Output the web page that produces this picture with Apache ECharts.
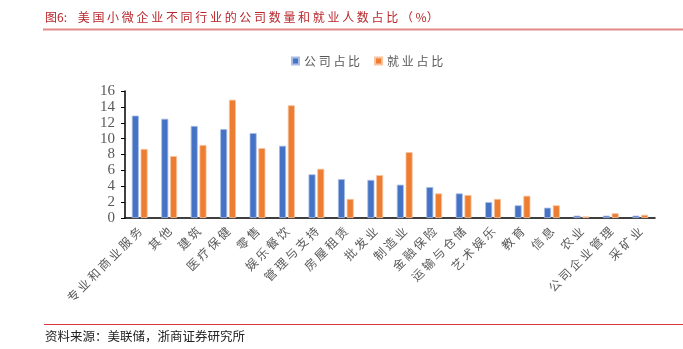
<!DOCTYPE html>
<html>
<head>
<meta charset="utf-8">
<script src="https://cdn.jsdelivr.net/npm/echarts@6/dist/echarts.min.js"></script>
<style>
  html, body { margin: 0; padding: 0; background: #fff; }
  #chart { width: 683px; height: 349px; }
</style>
</head>
<body>
<div id="chart"></div>
<script>
// Industry categories
var industries = ['专业和商业服务', '其他', '建筑', '医疗保健', '零售', '娱乐餐饮', '管理与支持', '房屋租赁', '批发业',
  '制造业', '金融保险', '运输与仓储', '艺术娱乐', '教育', '信息', '农业', '公司企业管理', '采矿业'];
// Share of firms (%)
var firmShare = [12.9, 12.5, 11.6, 11.2, 10.7, 9.1, 5.5, 4.9, 4.8, 4.2, 3.9, 3.1, 2.0, 1.6, 1.3, 0.3, 0.3, 0.3];
// Share of employment (%)
var jobShare = [8.7, 7.8, 9.2, 14.9, 8.8, 14.2, 6.2, 2.4, 5.4, 8.3, 3.1, 2.9, 2.4, 2.8, 1.6, 0.2, 0.6, 0.4];
// Y axis ticks
var yTicks = [0, 2, 4, 6, 8, 10, 12, 14, 16];

var cjk = '"Noto Sans CJK SC", sans-serif';
var serif = '"Liberation Serif", "DejaVu Serif", serif';

// Loosen CJK text by putting a space between characters
function spaced(s) { return s.split('').join(' '); }

var chart = echarts.init(document.getElementById('chart'));
chart.setOption({
  animation: false,
  title: {
    text: '图6:    ' + spaced('美国小微企业不同行业的公司数量和就业人数占比') + ' （ %）',
    left: 40, top: 6,
    textStyle: { color: '#B8262B', fontSize: 12, fontWeight: 'normal', fontFamily: cjk }
  },
  graphic: [
    { type: 'rect', shape: { x: 43, y: 28.5, width: 640, height: 2 }, style: { fill: '#E4898A' } },
    { type: 'rect', shape: { x: 44, y: 324, width: 639, height: 1 }, style: { fill: '#D9393C' } },
    { type: 'text', left: 45, top: 330, style: { text: '资料来源：美联储，浙商证券研究所', fill: '#222', fontSize: 12.5, fontFamily: cjk } }
  ],
  legend: {
    top: 50, left: 286,
    itemWidth: 7, itemHeight: 7, itemGap: 14,
    icon: 'rect',
    formatter: function (name) { return spaced(name); },
    textStyle: { color: '#595959', fontSize: 12, fontFamily: cjk },
    data: ['公司占比', '就业占比']
  },
  grid: { left: 125, right: 28, top: 91, bottom: 131, containLabel: false },
  xAxis: {
    type: 'category',
    data: industries,
    axisLine: { lineStyle: { color: '#000', width: 1.5 } },
    axisTick: { show: false },
    axisLabel: {
      rotate: 45, interval: 0, margin: 11, color: '#595959', fontSize: 12, fontFamily: cjk,
      formatter: function (v) { return spaced(v); }
    }
  },
  yAxis: {
    type: 'value',
    min: yTicks[0], max: yTicks[yTicks.length - 1], interval: 2,
    axisLine: { show: true, lineStyle: { color: '#000', width: 1.5 } },
    axisTick: { show: true, inside: false, length: 4, lineStyle: { color: '#000' } },
    splitLine: { show: false },
    axisLabel: { color: '#595959', fontSize: 15, fontFamily: serif, margin: 10 }
  },
  series: [
    {
      name: '公司占比', type: 'bar', data: firmShare,
      barWidth: 7, barGap: '25%',
      itemStyle: { color: '#4472C4', borderColor: '#A9BDE6', borderWidth: 0.8 }
    },
    {
      name: '就业占比', type: 'bar', data: jobShare,
      barWidth: 7, barGap: '25%',
      itemStyle: { color: '#ED7D31', borderColor: '#F7C3A0', borderWidth: 0.8 }
    }
  ]
});
</script>
</body>
</html>
